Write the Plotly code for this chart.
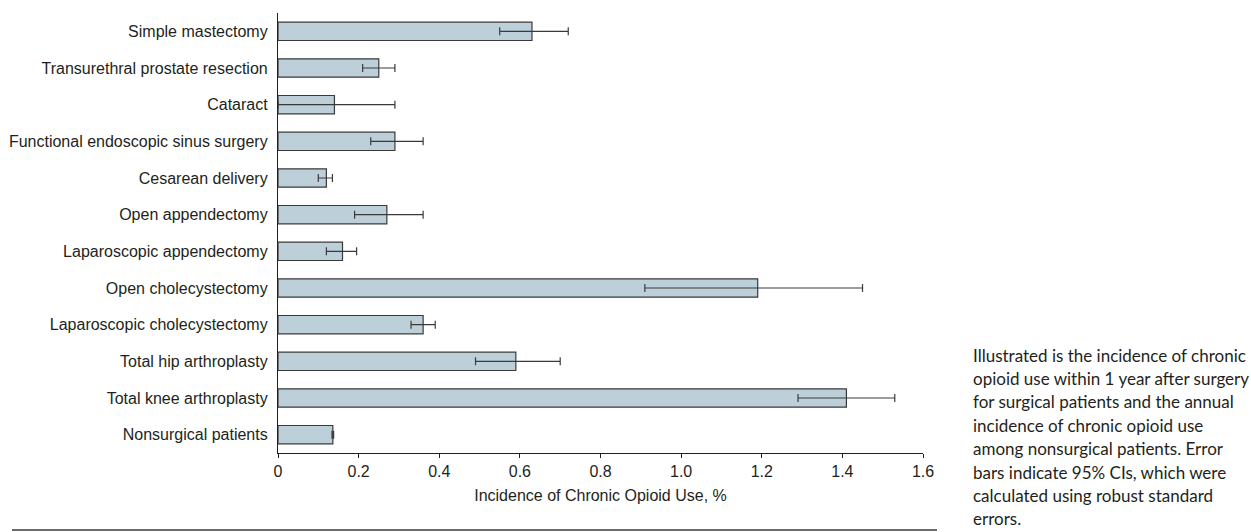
import plotly.graph_objects as go

categories = [
    "Simple mastectomy",
    "Transurethral prostate resection",
    "Cataract",
    "Functional endoscopic sinus surgery",
    "Cesarean delivery",
    "Open appendectomy",
    "Laparoscopic appendectomy",
    "Open cholecystectomy",
    "Laparoscopic cholecystectomy",
    "Total hip arthroplasty",
    "Total knee arthroplasty",
    "Nonsurgical patients",
]
incidence = [0.63, 0.25, 0.14, 0.29, 0.12, 0.27, 0.16, 1.19, 0.36, 0.59, 1.41, 0.136]
ci_low = [0.55, 0.21, 0.00, 0.23, 0.10, 0.19, 0.12, 0.91, 0.33, 0.49, 1.29, 0.134]
ci_high = [0.72, 0.29, 0.29, 0.36, 0.135, 0.36, 0.195, 1.45, 0.39, 0.70, 1.53, 0.138]

x_ticks = [0, 0.2, 0.4, 0.6, 0.8, 1.0, 1.2, 1.4, 1.6]
x_ticklabels = ["0", "0.2", "0.4", "0.6", "0.8", "1.0", "1.2", "1.4", "1.6"]
x_title = "Incidence of Chronic Opioid Use, %"
note_lines = [
    "Illustrated is the incidence of chronic",
    "opioid use within 1 year after surgery",
    "for surgical patients and the annual",
    "incidence of chronic opioid use",
    "among nonsurgical patients. Error",
    "bars indicate 95% CIs, which were",
    "calculated using robust standard",
    "errors.",
]

err_plus = [h - v for h, v in zip(ci_high, incidence)]
err_minus = [v - l for v, l in zip(incidence, ci_low)]

W, H = 1251, 532
L, R, T, B = 278, 923, 13, 453

fig = go.Figure()
fig.add_trace(go.Bar(
    x=incidence, y=categories, orientation="h",
    width=0.5,
    marker=dict(color="#bdd0d9", line=dict(color="#3a3a3a", width=1.2)),
    error_x=dict(type="data", array=err_plus, arrayminus=err_minus,
                 color="#3a3a3a", thickness=1.2, width=4),
    hoverinfo="skip",
))

TXT = "#231f20"
axis_font = dict(family="Liberation Sans Narrow, Arial Narrow, sans-serif", size=16, color=TXT)

fig.update_layout(
    width=W, height=H,
    margin=dict(l=L, r=W - R, t=T, b=H - B, autoexpand=False),
    paper_bgcolor="white", plot_bgcolor="white",
    showlegend=False,
    font=axis_font,
    xaxis=dict(
        range=[0, 1.6], tickvals=x_ticks, ticktext=x_ticklabels,
        showgrid=False, zeroline=False,
        showline=True, linecolor="#231f20", linewidth=1.2,
        ticks="outside", ticklen=4, tickcolor="#231f20", tickwidth=1,
        tickfont=axis_font,
        title=dict(text=x_title, font=axis_font, standoff=10),
    ),
    yaxis=dict(
        categoryorder="array", categoryarray=categories[::-1],
        showgrid=False, zeroline=False,
        showline=True, linecolor="#231f20", linewidth=1.2,
        ticks="", tickfont=axis_font, ticklabelstandoff=6,
    ),
)

def px_x(px):
    return (px - L) / (R - L)

def px_y(py):
    return (B - py) / (B - T)

line_y0 = 355
for i, txt in enumerate(note_lines):
    fig.add_annotation(
        text=txt, x=px_x(971), y=px_y(line_y0 + i * 23.4),
        xref="paper", yref="paper", xanchor="left", yanchor="middle",
        showarrow=False, align="left",
        font=dict(family="Lato, Open Sans, sans-serif", size=17, color=TXT),
    )

fig.add_shape(type="line", xref="paper", yref="paper",
              x0=px_x(12), x1=px_x(937), y0=px_y(530), y1=px_y(530),
              line=dict(color="#3a3a3a", width=1.6))

fig.write_html("out.html",
               config={"displayModeBar": False},
               post_script="document.body.style.margin='0px';document.body.style.overflow='hidden';")
